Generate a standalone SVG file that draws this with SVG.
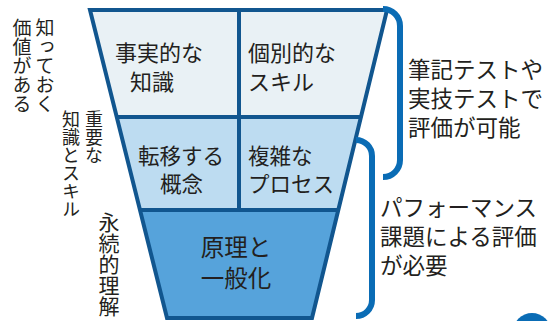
<svg xmlns="http://www.w3.org/2000/svg" width="550" height="321" viewBox="0 0 550 321">
<style>
.t{font-family:"Noto Sans CJK JP","Noto Sans",sans-serif;fill:#231f20;font-weight:400}
.v{writing-mode:vertical-rl}
.edge{fill:none;stroke:#11568f;stroke-width:4;stroke-linejoin:miter}
.br{fill:none;stroke:#0a6cb5;stroke-width:6}
</style>
<rect width="550" height="321" fill="#ffffff"/>
<g id="tier1">
<polygon points="90,10 387,10 361,117 117,117" fill="#e9f1f5"/>
<text class="t" x="115" y="61" font-size="22">事実的な</text>
<text class="t" x="130" y="90" font-size="22">知識</text>
<text class="t" x="248" y="61" font-size="22">個別的な</text>
<text class="t" x="248" y="90" font-size="22">スキル</text>
</g>
<g id="tier2">
<polygon points="117,117 361,117 338,210 140,210" fill="#bddcf1"/>
<text class="t" x="138" y="164" font-size="21.5">転移する</text>
<text class="t" x="160" y="192" font-size="21.5">概念</text>
<text class="t" x="248" y="164" font-size="21.5">複雑な</text>
<text class="t" x="248" y="192" font-size="21.5">プロセス</text>
</g>
<g id="tier3">
<polygon points="140,210 338,210 312,318 167,318" fill="#56a3db"/>
<text class="t" x="236" y="256" font-size="23.5" text-anchor="middle">原理と</text>
<text class="t" x="236" y="287" font-size="23.5" text-anchor="middle">一般化</text>
</g>
<g id="connectors">
<polygon class="edge" points="90,10 387,10 312,318 167,318"/>
<line class="edge" x1="117" y1="117" x2="361" y2="117"/>
<line class="edge" x1="140" y1="210" x2="338" y2="210"/>
<line class="edge" x1="239" y1="10" x2="239" y2="210"/>
<path class="br" d="M383,9 A17,17 0 0 1 400,26 V160 A17,17 0 0 1 383,177"/>
<path class="br" d="M356,140 A16,16 0 0 1 372,156 V300 A16,16 0 0 1 356,316"/>
</g>
<g id="label-written">
<text class="t" x="408" y="78" font-size="22.5">筆記テストや</text>
<text class="t" x="408" y="107" font-size="22.5">実技テストで</text>
<text class="t" x="408" y="136" font-size="22.5">評価が可能</text>
</g>
<g id="label-performance">
<text class="t" x="380" y="216" font-size="22.5">パフォーマンス</text>
<text class="t" x="380" y="245" font-size="22.5">課題による評価</text>
<text class="t" x="380" y="274" font-size="22.5">が必要</text>
</g>
<g id="label-left">
<text class="t v" x="45" y="18" font-size="19">知っておく</text>
<text class="t v" x="22" y="18" font-size="19">価値がある</text>
<text class="t v" x="94" y="110" font-size="18">重要な</text>
<text class="t v" x="71" y="110" font-size="18">知識とスキル</text>
<text class="t v" x="109" y="212" font-size="21">永続的理解</text>
</g>
<circle id="dot" cx="532" cy="332" r="19" fill="#0a6cb5"/>
</svg>
